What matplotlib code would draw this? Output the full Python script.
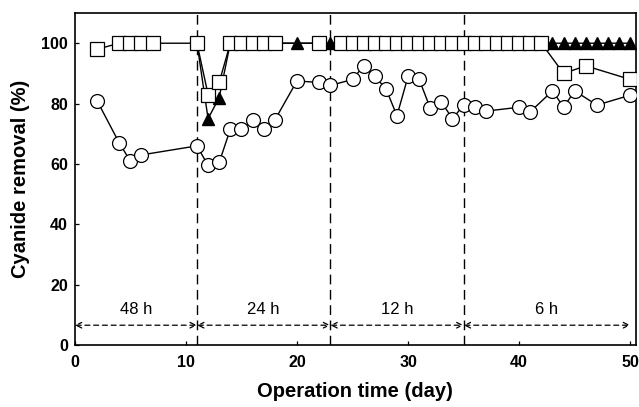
import matplotlib
matplotlib.use("Agg")
import matplotlib.pyplot as plt

plt.rcParams['font.family'] = ['Liberation Sans', 'DejaVu Sans']

# Circles (open)
circ_days = [2, 4, 5, 6, 11, 12, 13, 14, 15, 16, 17, 18, 20, 22, 23, 25, 26, 27, 28, 29,
             30, 31, 32, 33, 34, 35, 36, 37, 40, 41, 43, 44, 45, 47, 50]
circ_vals = [81, 67, 61, 63, 66, 59.5, 60.5, 71.5, 71.5, 74.5, 71.5, 74.5, 87.5, 87, 86, 88, 92.5, 89, 85, 76,
             89, 88, 78.5, 80.5, 75, 79.5, 79, 77.5, 78.8, 77.3, 84.2, 78.8, 84.2, 79.5, 82.8]

# Squares (open)
sq_days = [2, 4, 5, 6, 7, 11, 12, 13, 14, 15, 16, 17, 18, 22,
           24, 25, 26, 27, 28, 29, 30, 31, 32, 33, 34, 35, 36, 37, 38, 39, 40, 41, 42,
           44, 46, 50]
sq_vals = [98, 100, 100, 100, 100, 100, 83, 87, 100, 100, 100, 100, 100, 100,
           100, 100, 100, 100, 100, 100, 100, 100, 100, 100, 100, 100, 100, 100, 100, 100, 100, 100, 100,
           90, 92.5, 88]

# Triangles (filled)
tri_days = [11, 12, 13, 14, 20, 23, 24, 42, 43, 44, 45, 46, 47, 48, 49, 50]
tri_vals = [100, 75, 82, 100, 100, 100, 100, 100, 100, 100, 100, 100, 100, 100, 100, 100]

# HRT phases
phase_bounds = [0, 11, 23, 35, 50]
phase_labels = ["48 h", "24 h", "12 h", "6 h"]

fig = plt.figure(figsize=(6.39, 4.07), dpi=100)
ax = fig.add_axes([0.117, 0.152, 0.878, 0.816])

ax.plot(tri_days, tri_vals, color='black', lw=1.0, marker='^', ms=8.5,
        mfc='black', mec='black', zorder=3)
ax.plot(sq_days, sq_vals, color='black', lw=1.0, marker='s', ms=9.8,
        mfc='white', mec='black', mew=0.9, zorder=4)
ax.plot(circ_days, circ_vals, color='black', lw=1.0, marker='o', ms=10,
        mfc='white', mec='black', mew=0.9, zorder=5)

for xb in phase_bounds[1:4]:
    ax.axvline(xb, color='black', lw=1.0, ls=(0, (7, 4)), zorder=1)

for i, lab in enumerate(phase_labels):
    x0, x1 = phase_bounds[i], phase_bounds[i + 1]
    ax.annotate("", xy=(x1, 6.6), xytext=(x0, 6.6),
                arrowprops=dict(arrowstyle='<->', color='black', lw=0.9,
                                ls=(0, (4, 3)), shrinkA=0, shrinkB=0,
                                mutation_scale=10))
    ax.text((x0 + x1) / 2, 11.8, lab, ha='center', va='center', fontsize=12)

ax.set_xlim(0, 50.5)
ax.set_ylim(0, 110)
ax.set_xticks([0, 10, 20, 30, 40, 50])
ax.set_yticks([0, 20, 40, 60, 80, 100])
ax.tick_params(direction='in', length=3, width=0.9, labelsize=11.5)
ax.tick_params(axis='x', pad=7)
ax.tick_params(axis='y', pad=5)
for lab in ax.get_xticklabels() + ax.get_yticklabels():
    lab.set_fontweight('bold')
for sp in ax.spines.values():
    sp.set_linewidth(1.2)

ax.set_xlabel("Operation time (day)", fontsize=14.5, fontweight='bold', labelpad=9)
ax.set_ylabel("Cyanide removal (%)", fontsize=14.5, fontweight='bold', labelpad=8)

fig.savefig("out.png", dpi=100)
